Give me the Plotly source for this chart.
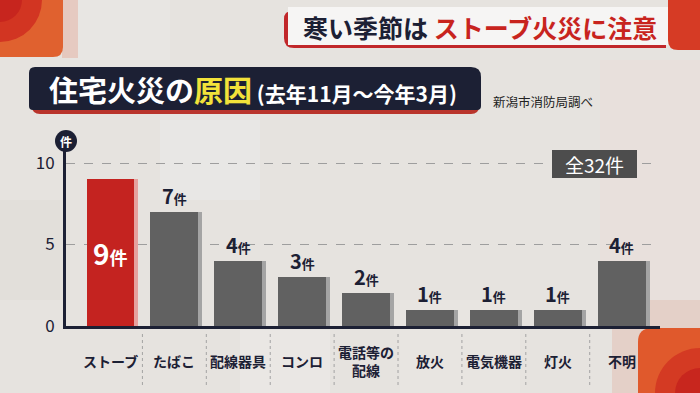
import plotly.graph_objects as go

# ---------------- data ----------------
categories = ["ストーブ", "たばこ", "配線器具", "コンロ", "電話等の<br>配線", "放火", "電気機器", "灯火", "不明"]
counts = [9, 7, 4, 3, 2, 1, 1, 1, 4]
y_ticks = [0, 5, 10]
unit = "件"
total_label = "全32件"
banner_dark = "寒い季節は"
banner_red = "ストーブ火災に注意"
title_main = "住宅火災の"
title_hl = "原因"
title_period = "(去年11月～今年3月)"
source = "新潟市消防局調べ"

# ---------------- layout helpers ----------------
W, H = 700, 393
L, R, T, B = 66, 660, 141, 326  # plot area in pixels
FONT = "Noto Sans CJK JP"
NAVY = "#1c2034"


def px(x):
    return (x - L) / (R - L)


def py(y):
    return (B - y) / (B - T)


def rrect(x0, y0, x1, y1, r=(0, 0, 0, 0)):
    """rounded rect path in paper coords; r = (tl, tr, br, bl) pixel radii"""
    tl, tr, br, bl = r
    p = f"M {px(x0 + tl)},{py(y0)} L {px(x1 - tr)},{py(y0)} "
    if tr:
        p += f"Q {px(x1)},{py(y0)} {px(x1)},{py(y0 + tr)} "
    p += f"L {px(x1)},{py(y1 - br)} "
    if br:
        p += f"Q {px(x1)},{py(y1)} {px(x1 - br)},{py(y1)} "
    p += f"L {px(x0 + bl)},{py(y1)} "
    if bl:
        p += f"Q {px(x0)},{py(y1)} {px(x0)},{py(y1 - bl)} "
    p += f"L {px(x0)},{py(y0 + tl)} "
    if tl:
        p += f"Q {px(x0)},{py(y0)} {px(x0 + tl)},{py(y0)} "
    return p + "Z"


n = len(categories)
idx = list(range(n))
bar_w = 0.75
shadow_dx = 0.063
bar_colors = ["#c42320"] + ["#616161"] * (n - 1)
shadow_colors = ["#e6a19e"] + ["#a4a4a4"] * (n - 1)

fig = go.Figure()
fig.add_bar(x=idx, y=counts, width=bar_w, offset=-bar_w / 2 + shadow_dx,
            marker=dict(color=shadow_colors, line_width=0), hoverinfo="skip", showlegend=False)
fig.add_bar(x=idx, y=counts, width=bar_w, offset=-bar_w / 2,
            marker=dict(color=bar_colors, line_width=0), showlegend=False)

shapes = []
# ---- background decorations ----
tiles = [
    (0, 0, 700, 393, "#e6e3df"),
    (70, 0, 170, 60, "#e8e6e3"),
    (380, 50, 480, 130, "#e4e1dd"),
    (160, 120, 260, 200, "#e8e7e5"),
    (0, 200, 70, 300, "#e2dfda"),
    (400, 300, 520, 393, "#e8e5e1"),
    (600, 60, 700, 300, "#e8e0dc"),
    (240, 330, 330, 393, "#eae7e4"),
]
for x0, y0, x1, y1, c in tiles:
    shapes.append(dict(type="rect", xref="paper", yref="paper", x0=px(x0), x1=px(x1),
                       y0=py(y1), y1=py(y0), fillcolor=c, line_width=0, layer="below"))
# top-left corner
shapes.append(dict(type="rect", xref="paper", yref="paper", x0=px(62), x1=px(78), y0=py(58), y1=py(0),
                   fillcolor="rgba(225,150,130,0.35)", line_width=0, layer="below"))
shapes.append(dict(type="path", xref="paper", yref="paper", path=rrect(-5, -5, 63, 57, (0, 0, 10, 0)),
                   fillcolor="#e0612f", line_width=0, layer="below"))
shapes.append(dict(type="circle", xref="paper", yref="paper", x0=px(-42), x1=px(42), y0=py(42), y1=py(-42),
                   fillcolor="#d23522", line_width=0, layer="below"))
shapes.append(dict(type="circle", xref="paper", yref="paper", x0=px(-22), x1=px(22), y0=py(22), y1=py(-22),
                   fillcolor="#c7251e", line_width=0, layer="below"))
# top-right corner
shapes.append(dict(type="path", xref="paper", yref="paper", path=rrect(668, -5, 705, 50, (0, 0, 0, 10)),
                   fillcolor="#d63b25", line_width=0, layer="below"))
# bottom-right corner
shapes.append(dict(type="rect", xref="paper", yref="paper", x0=px(612), x1=px(705), y0=py(398), y1=py(300),
                   fillcolor="rgba(225,140,120,0.22)", line_width=0, layer="below"))
shapes.append(dict(type="path", xref="paper", yref="paper", path=rrect(638, 328, 705, 398, (14, 0, 0, 0)),
                   fillcolor="#e0592c", line_width=0, layer="below"))
shapes.append(dict(type="circle", xref="paper", yref="paper", x0=px(655), x1=px(745), y0=py(438), y1=py(348),
                   fillcolor="#d43a23", line_width=0, layer="below"))
shapes.append(dict(type="circle", xref="paper", yref="paper", x0=px(675), x1=px(725), y0=py(418), y1=py(368),
                   fillcolor="#c8261e", line_width=0, layer="below"))
# banner
shapes.append(dict(type="path", xref="paper", yref="paper", path=rrect(284, 11, 666, 48, (8, 0, 0, 10)),
                   fillcolor="#c1272a", line_width=0, layer="below"))
shapes.append(dict(type="rect", xref="paper", yref="paper", x0=px(288), x1=px(668), y0=py(45), y1=py(7),
                   fillcolor="#f6f5f4", line_width=0, layer="below"))
# title box
shapes.append(dict(type="path", xref="paper", yref="paper", path=rrect(32, 71, 479, 114, (8, 10, 8, 8)),
                   fillcolor="#b9342b", line_width=0, layer="below"))
shapes.append(dict(type="path", xref="paper", yref="paper", path=rrect(29, 67, 481, 110, (6, 10, 4, 4)),
                   fillcolor=NAVY, line_width=0, layer="below"))
# category separators
for i in range(n - 1):
    shapes.append(dict(type="line", xref="x", yref="paper", x0=i + 0.5, x1=i + 0.5, y0=py(334), y1=py(387),
                       line=dict(color="#a3a3a3", width=1, dash="dot")))
# total label box
shapes.append(dict(type="rect", xref="paper", yref="paper", x0=px(552), x1=px(637), y0=py(178), y1=py(150),
                   fillcolor="#4d4d4d", line_width=0, layer="above"))
# y axis unit circle
shapes.append(dict(type="circle", xref="paper", yref="paper", x0=px(55), x1=px(77), y0=py(152), y1=py(130),
                   fillcolor=NAVY, line_width=0, layer="above"))

ann = []
ann.append(dict(xref="paper", yref="paper", x=px(480), y=py(27), xanchor="center", yanchor="middle",
                text=f"<b>{banner_dark} <span style='color:#c8241e'>{banner_red}</span></b>",
                font=dict(family=FONT, size=25, color=NAVY), showarrow=False))
ann.append(dict(xref="paper", yref="paper", x=px(47), y=py(89), xanchor="left", yanchor="middle",
                text=f"<b>{title_main}<span style='color:#f2e23a'>{title_hl}</span>"
                     f"<span style='font-size:21px'> {title_period}</span></b>",
                font=dict(family=FONT, size=29, color="white"), showarrow=False))
ann.append(dict(xref="paper", yref="paper", x=px(491), y=py(101), xanchor="left", yanchor="middle",
                text=source, font=dict(family=FONT, size=12.5, color="#222222"), showarrow=False))
ann.append(dict(xref="paper", yref="paper", x=px(594.5), y=py(164), xanchor="center", yanchor="middle",
                text=total_label, font=dict(family=FONT, size=19, color="white"), showarrow=False))
ann.append(dict(xref="paper", yref="paper", x=px(66), y=py(141), xanchor="center", yanchor="middle",
                text=f"<b>{unit}</b>", font=dict(family=FONT, size=12, color="white"), showarrow=False))

for i, (c, v) in enumerate(zip(categories, counts)):
    ann.append(dict(xref="x", yref="paper", x=i, y=py(361), xanchor="center", yanchor="middle",
                    text=f"<b>{c}</b>", font=dict(family=FONT, size=14, color=NAVY), showarrow=False))
    if i == 0:
        ann.append(dict(xref="x", yref="y", x=i, y=v / 2, xanchor="center", yanchor="middle",
                        text=f"<b>{v}<span style='font-size:18px'>{unit}</span></b>",
                        font=dict(family=FONT, size=28, color="white"), showarrow=False))
    else:
        ann.append(dict(xref="x", yref="y", x=i, y=v, xanchor="center", yanchor="bottom", yshift=0,
                        text=f"<b>{v}<span style='font-size:13px'>{unit}</span></b>",
                        font=dict(family=FONT, size=20, color=NAVY), showarrow=False))

fig.update_layout(
    width=W, height=H,
    margin=dict(l=L, r=W - R, t=T, b=H - B, pad=0),
    paper_bgcolor="#e6e3df", plot_bgcolor="rgba(0,0,0,0)",
    barmode="overlay", bargap=0,
    shapes=shapes, annotations=ann,
    font=dict(family=FONT, color=NAVY),
    xaxis=dict(range=[-0.696, 8.60], showline=True, linecolor=NAVY, linewidth=3,
               showgrid=False, zeroline=False, showticklabels=False, ticks="", fixedrange=True),
    yaxis=dict(range=[0, 11.35], showline=True, linecolor=NAVY, linewidth=3,
               tickvals=y_ticks, ticks="", ticklabelstandoff=5,
               tickfont=dict(family=FONT, size=17, color=NAVY),
               showgrid=True, gridcolor="#9e9e9e", gridwidth=1, griddash="dash",
               zeroline=False, fixedrange=True),
)

fig.write_html("out.html", config={"displayModeBar": False})
